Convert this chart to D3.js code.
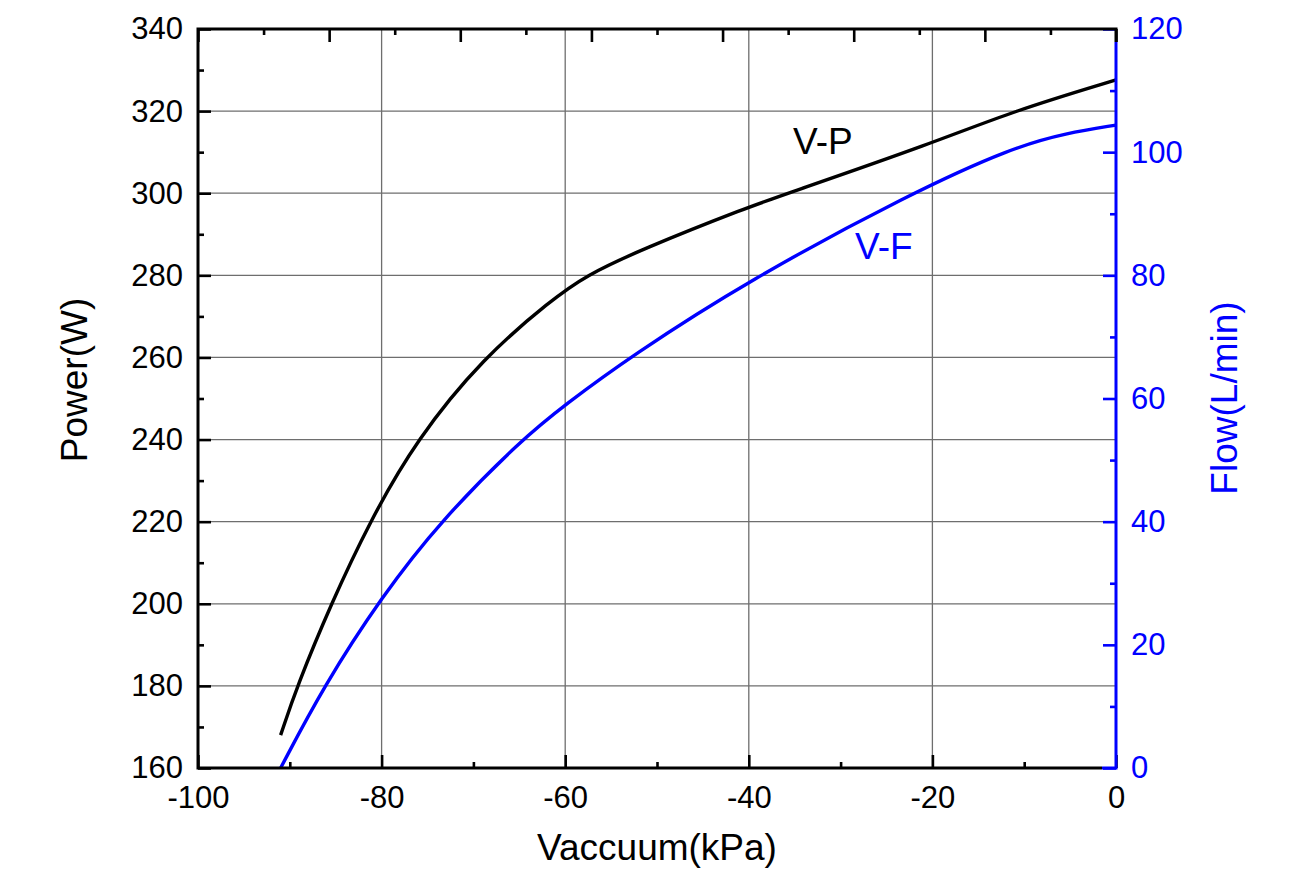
<!DOCTYPE html>
<html>
<head>
<meta charset="utf-8">
<script src="https://cdn.jsdelivr.net/npm/d3@7"></script>
<style>
  body { margin: 0; background: #fff; }
  text { font-family: "Liberation Sans", Arial, sans-serif; }
</style>
</head>
<body>
<main></main>
<script>
// values
let vacPower = [-91, -89.2, -85.5, -81.3, -76.2, -68.9, -61.5, -57.7, -51.8, -40, -35.7, -20, -11.2, 0]
let power = [168, 180, 200, 220, 240, 260, 274, 280, 286.2, 296.7, 300, 312.2, 320, 327.6]

let vacFlow = [-91, -86.3, -80, -73.6, -64.7, -60, -52.9, -40, -22.4, -11.2, -5.4, 0]
let flow = [0, 13.3, 27.8, 40.1, 53.4, 59, 66.8, 79.2, 93.3, 100.8, 103.1, 104.4]

let xTicks = [-100, -80, -60, -40, -20, 0]
let powerTicks = [160, 180, 200, 220, 240, 260, 280, 300, 320, 340]
let flowTicks = [0, 20, 40, 60, 80, 100, 120]

let blue = "#0000ff"
let pL = 198, pR = 1116, pT = 29, pB = 768

let svg = d3.select('main')
    .append('svg')
    .attr('width', 1305)
    .attr('height', 891)

let x = d3.scaleLinear().domain([-100, 0]).range([pL, pR])
let xTop = d3.scaleLinear().domain([-7, 0]).range([pL, pR])
let yP = d3.scaleLinear().domain([160, 340]).range([pB, pT])
let yF = d3.scaleLinear().domain([0, 120]).range([pB, pT])

// grid
let grid = svg.append("g")
grid.selectAll("line.gx")
    .data(xTicks.slice(1, -1))
    .enter()
    .append("line")
    .attr("x1", d => x(d)).attr("x2", d => x(d))
    .attr("y1", pT).attr("y2", pB)
    .style("stroke", "#6e6e6e")
    .style("stroke-width", 1.3)
grid.selectAll("line.gy")
    .data(powerTicks.slice(1, -1))
    .enter()
    .append("line")
    .attr("x1", pL).attr("x2", pR)
    .attr("y1", d => yP(d)).attr("y2", d => yP(d))
    .style("stroke", "#6e6e6e")
    .style("stroke-width", 1.3)

// curves
let lineP = d3.line()
    .x(function (d, i) { return x(vacPower[i]); })
    .y(function (d) { return yP(d); })
    .curve(d3.curveBasis)
let lineF = d3.line()
    .x(function (d, i) { return x(vacFlow[i]); })
    .y(function (d) { return yF(d); })
    .curve(d3.curveBasis)

svg.append("path")
    .attr("d", lineP(power))
    .attr("fill", "none")
    .attr("stroke", "black")
    .attr("stroke-width", 3.4)
svg.append("path")
    .attr("d", lineF(flow))
    .attr("fill", "none")
    .attr("stroke", blue)
    .attr("stroke-width", 3.4)

function minors(ticks) {
    let out = []
    for (let i = 0; i < ticks.length - 1; i++) out.push((ticks[i] + ticks[i + 1]) / 2)
    return out
}

function styleAxis(g, color) {
    g.select(".domain").remove()
    g.selectAll(".tick line").attr("stroke", color).attr("stroke-width", 2.6)
    g.selectAll(".tick text")
        .attr("fill", color)
        .style("font-size", "31px")
        .style("font-family", "Liberation Sans, Arial, sans-serif")
}

let plain = d => String(d)

// bottom axis
let gB = svg.append("g").attr("transform", `translate(0,${pB})`)
    .call(d3.axisBottom(x).tickValues(xTicks).tickSize(-13).tickPadding(18).tickFormat(plain))
styleAxis(gB, "black")
let gBm = svg.append("g").attr("transform", `translate(0,${pB})`)
    .call(d3.axisBottom(x).tickValues(minors(xTicks)).tickSize(-6).tickFormat(""))
styleAxis(gBm, "black")

// top axis (no labels)
let topTicks = d3.range(-7, 0.01, 1)
let gT = svg.append("g").attr("transform", `translate(0,${pT})`)
    .call(d3.axisTop(xTop).tickValues(topTicks).tickSize(-13).tickFormat(""))
styleAxis(gT, "black")
let gTm = svg.append("g").attr("transform", `translate(0,${pT})`)
    .call(d3.axisTop(xTop).tickValues(minors(topTicks)).tickSize(-6).tickFormat(""))
styleAxis(gTm, "black")

// left axis
let gL = svg.append("g").attr("transform", `translate(${pL},0)`)
    .call(d3.axisLeft(yP).tickValues(powerTicks).tickSize(-13).tickPadding(15).tickFormat(plain))
styleAxis(gL, "black")
let gLm = svg.append("g").attr("transform", `translate(${pL},0)`)
    .call(d3.axisLeft(yP).tickValues(minors(powerTicks)).tickSize(-6).tickFormat(""))
styleAxis(gLm, "black")

// right axis
let gR = svg.append("g").attr("transform", `translate(${pR},0)`)
    .call(d3.axisRight(yF).tickValues(flowTicks).tickSize(-13).tickPadding(15).tickFormat(plain))
styleAxis(gR, blue)
let gRm = svg.append("g").attr("transform", `translate(${pR},0)`)
    .call(d3.axisRight(yF).tickValues(minors(flowTicks)).tickSize(-6).tickFormat(""))
styleAxis(gRm, blue)

// frame lines
svg.append("path")
    .attr("d", `M${pR - 14},${pB}H${pL}V${pT}H${pR}V${pT + 13}`)
    .attr("fill", "none")
    .attr("stroke", "black")
    .attr("stroke-width", 3)
svg.append("path")
    .attr("d", `M${pR},${pT + 13}V${pB}H${pR - 14}`)
    .attr("fill", "none")
    .attr("stroke", blue)
    .attr("stroke-width", 3)

// titles
svg.append("text")
    .attr("x", (pL + pR) / 2)
    .attr("y", 860)
    .attr("text-anchor", "middle")
    .style("font-size", "37px")
    .text("Vaccuum(kPa)")
svg.append("text")
    .attr("transform", "translate(87,380) rotate(-90)")
    .attr("text-anchor", "middle")
    .style("font-size", "37px")
    .text("Power(W)")
svg.append("text")
    .attr("transform", "translate(1237,398) rotate(-90)")
    .attr("text-anchor", "middle")
    .attr("fill", blue)
    .style("font-size", "37px")
    .text("Flow(L/min)")

// curve labels
svg.append("text")
    .attr("x", 793)
    .attr("y", 154)
    .style("font-size", "37px")
    .text("V-P")
svg.append("text")
    .attr("x", 855)
    .attr("y", 259)
    .attr("fill", blue)
    .style("font-size", "37px")
    .text("V-F")
</script>
</body>
</html>
